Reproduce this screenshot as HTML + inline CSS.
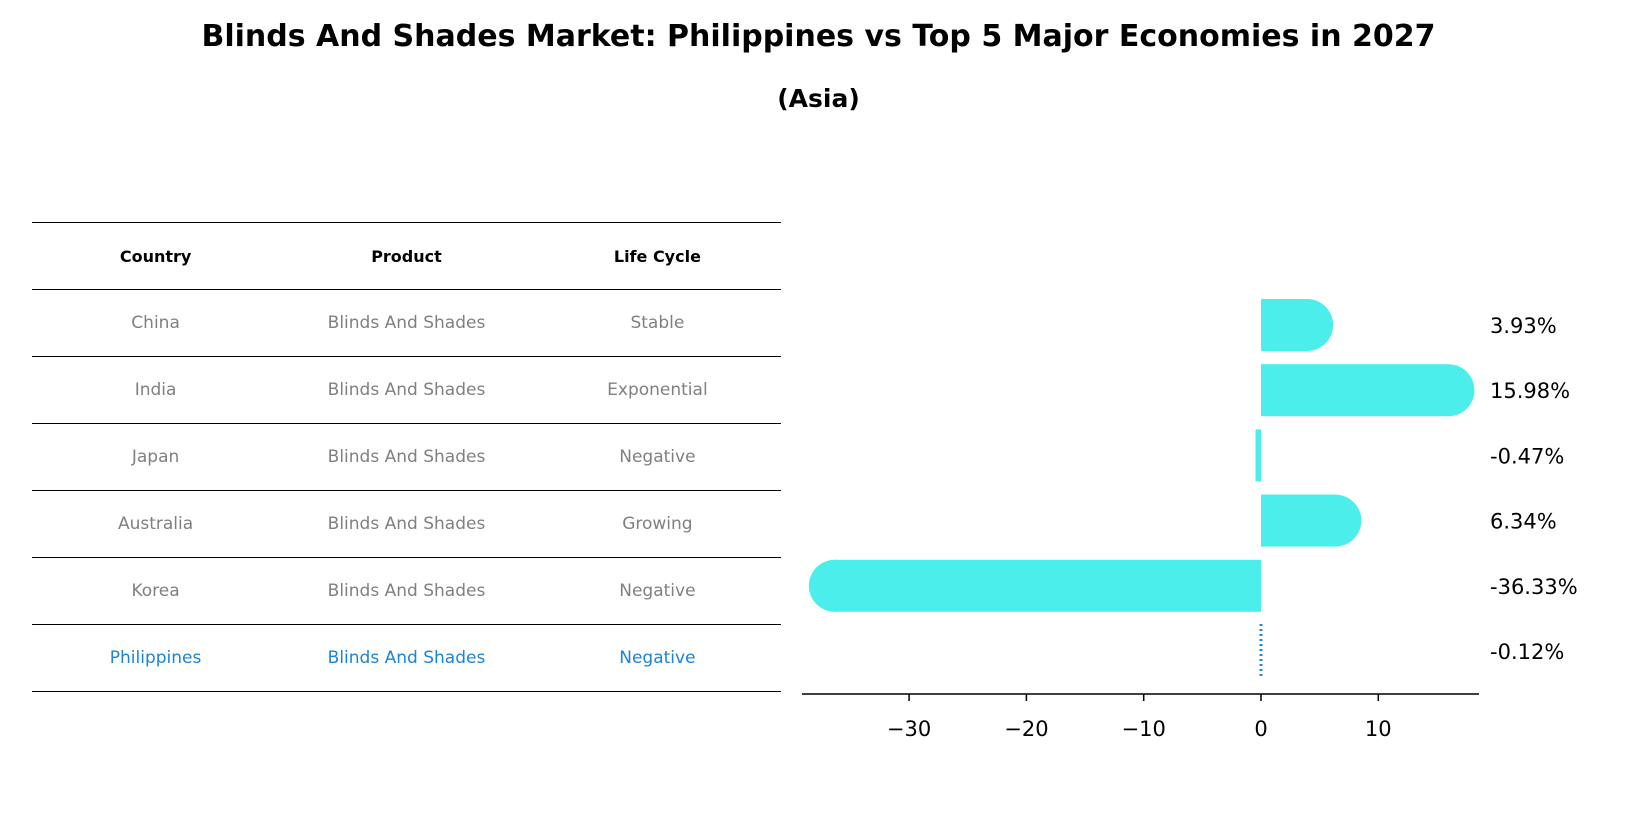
<!DOCTYPE html>
<html><head><meta charset="utf-8"><style>
body{margin:0;background:#fff;font-family:"DejaVu Sans","Liberation Sans",sans-serif;}
#wrap{position:relative;width:1637px;height:823px;overflow:hidden;}
.t{position:absolute;left:0;width:1637px;text-align:center;font-weight:bold;color:#000;white-space:nowrap;}
table{position:absolute;left:32px;top:222px;width:749px;border-collapse:collapse;font-size:17px;}
td,th{height:66px;text-align:center;border-top:1px solid #000;border-bottom:1px solid #000;padding:0;}
th{font-size:16px;color:#000;}
td{color:#808080;}
tr.ph td{color:#1a84d8;}
</style></head><body>
<div id="wrap">
<div class="t" style="top:19px;font-size:30px;">Blinds And Shades Market: Philippines vs Top 5 Major Economies in 2027</div>
<div class="t" style="top:84px;font-size:25px;">(Asia)</div>
<table>
<tr><th style="width:33%">Country</th><th style="width:34%">Product</th><th>Life Cycle</th></tr>
<tr><td>China</td><td>Blinds And Shades</td><td>Stable</td></tr>
<tr><td>India</td><td>Blinds And Shades</td><td>Exponential</td></tr>
<tr><td>Japan</td><td>Blinds And Shades</td><td>Negative</td></tr>
<tr><td>Australia</td><td>Blinds And Shades</td><td>Growing</td></tr>
<tr><td>Korea</td><td>Blinds And Shades</td><td>Negative</td></tr>
<tr class="ph"><td>Philippines</td><td>Blinds And Shades</td><td>Negative</td></tr>
</table>
<svg id="chart" width="1637" height="823" style="position:absolute;left:0;top:0;font-family:'DejaVu Sans','Liberation Sans',sans-serif"></svg>
</div>
<script>
const categories=["China","India","Japan","Australia","Korea","Philippines"];
const values=[3.93,15.98,-0.47,6.34,-36.33,-0.12];
const valueLabels=["3.93%","15.98%","-0.47%","6.34%","-36.33%","-0.12%"];
const ticks=[-30,-20,-10,0,10];
const tickLabels=["\u221230","\u221220","\u221210","0","10"];
const NS="http://www.w3.org/2000/svg";
const svg=document.getElementById("chart");
const x0=1261,pxPer=11.73;
function xs(v){return x0+v*pxPer;}
function ys(i){return 325+i*65.2;}
const barH=52;
function mk(tag,attrs){const e=document.createElementNS(NS,tag);for(const k in attrs)e.setAttribute(k,attrs[k]);svg.appendChild(e);return e;}
values.forEach((v,i)=>{
  const cy=ys(i);
  if(categories[i]==="Philippines"){
    const l=mk("line",{x1:x0,x2:x0,y1:cy-27,y2:cy+27,stroke:"#1e88e5","stroke-width":3,"stroke-dasharray":"2,3"});
    
    
  } else {
    const a=Math.min(xs(v),x0),b=Math.max(xs(v),x0);
    const r=mk("rect",{x:a,y:cy-barH/2,width:b-a,height:barH,fill:"#4beeea"});
    
    
    if(Math.abs(v)>1){
      const c=mk("circle",{cx:xs(v),cy:cy,r:barH/2,fill:"#4beeea"});
      
      
    }
  }
  const t=mk("text",{x:1490,y:cy+8,"font-size":21,fill:"#000"});
  t.textContent=valueLabels[i];
  
  
});
const ax=mk("line",{x1:802,x2:1479,y1:694,y2:694,stroke:"#000","stroke-width":1.5});


ticks.forEach((tv,i)=>{
  const tk=mk("line",{x1:xs(tv),x2:xs(tv),y1:694,y2:701,stroke:"#000","stroke-width":1.5});
  
  
  const tl=mk("text",{x:xs(tv),y:736,"font-size":21,"text-anchor":"middle",fill:"#000"});
  tl.textContent=tickLabels[i];
  
  
});
</script>
</body></html>
